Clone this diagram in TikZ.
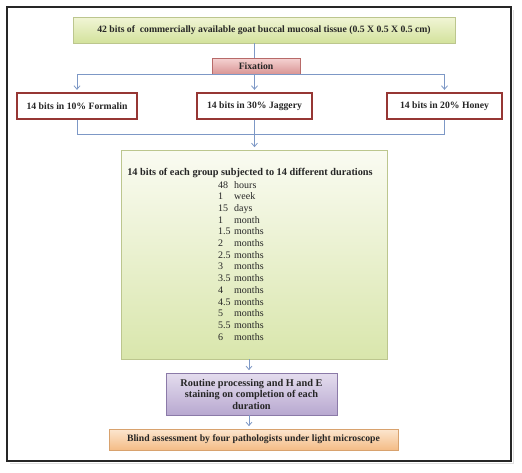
\documentclass[tikz,border=0pt]{standalone}
\usepackage{fontspec}
\setmainfont{Liberation Serif}
\usetikzlibrary{shadows,arrows.meta}
\definecolor{lineblue}{HTML}{7D98C6}
\definecolor{gtop}{HTML}{F1F5D6}
\definecolor{gbot}{HTML}{D3E29C}
\definecolor{gborder}{HTML}{BCC68E}
\definecolor{ptop}{HTML}{F5D3D3}
\definecolor{pbot}{HTML}{D99594}
\definecolor{pborder}{HTML}{B86A69}
\definecolor{redborder}{HTML}{963634}
\definecolor{btop}{HTML}{FAFBF2}
\definecolor{bbot}{HTML}{D9E6AC}
\definecolor{vtop}{HTML}{E4DDEE}
\definecolor{vbot}{HTML}{B8A8D0}
\definecolor{vborder}{HTML}{8B7AA8}
\definecolor{otop}{HTML}{FCE6CF}
\definecolor{obot}{HTML}{F4BC86}
\definecolor{oborder}{HTML}{D8A26E}
\begin{document}
\begin{tikzpicture}[x=1pt,y=-1pt,
  boxtxt/.style={font=\bfseries\fontsize{9.7}{11}\selectfont, text=black!85, inner sep=0pt, align=center},
  shad/.style={drop shadow={opacity=0.25, shadow xshift=1pt, shadow yshift=-1.2pt}},
  greenbox/.style={boxtxt, shad, draw=gborder, line width=0.7pt, top color=gtop, bottom color=gbot},
  pinkbox/.style={boxtxt, shad, draw=pborder, line width=0.7pt, top color=ptop, bottom color=pbot},
  redbox/.style={boxtxt, shad, draw=redborder, line width=1.3pt, fill=white},
  bigbox/.style={shad, draw=gborder, line width=0.7pt, top color=btop, bottom color=bbot, inner sep=0pt},
  purplebox/.style={boxtxt, shad, draw=vborder, line width=0.7pt, top color=vtop, bottom color=vbot},
  orangebox/.style={boxtxt, shad, draw=oborder, line width=0.7pt, top color=otop, bottom color=obot},
  listtxt/.style={font=\fontsize{10}{12}\selectfont, text=black!85, inner sep=0pt, anchor=base west},
  conn/.style={draw=lineblue, line width=0.8pt},
  arr/.style={conn, -{Straight Barb[length=3.5pt,width=6pt]}, shorten >=2.5pt}
]
\useasboundingbox (0,0) rectangle (522,472);
\fill[white] (0,0) rectangle (522,472);
% frame
\draw[black!12, line width=1.2pt] (10,463.5) -- (513.5,463.5) -- (513.5,10);
\draw[black!85, line width=1.3pt] (7,7) rectangle (511,461);

% nodes
\node[greenbox, minimum width=382pt, minimum height=26pt] (top) at (264,30)
  {42 bits of \ commercially available goat buccal mucosal tissue (0.5 X 0.5 X 0.5 cm)};
\node[redbox, minimum width=115pt, minimum height=26pt] (jag) at (254.5,106) {14 bits in 30\% Jaggery};
\node[redbox, minimum width=120pt, minimum height=26pt] (form) at (77,106) {14 bits in 10\% Formalin};
\node[redbox, minimum width=115pt, minimum height=26pt] (honey) at (444.5,106) {14 bits in 20\% Honey};
\node[bigbox, minimum width=266pt, minimum height=209pt] (big) at (254,254.5) {};
\node[boxtxt, font=\bfseries\fontsize{10.3}{11}\selectfont] (bigtitle) at (250,173) {14 bits of each group subjected to 14 different durations};
\foreach \n/\w [count=\i] in {48/hours, 1/week, 15/days, 1/month, 1.5/months, 2/months, 2.5/months, 3/months, 3.5/months, 4/months, 4.5/months, 5/months, 5.5/months, 6/months}{
  \node[listtxt] (num\i) at (218,{188+11.7*(\i-1)}) {\n};
  \node[listtxt] (word\i) at (234,{188+11.7*(\i-1)}) {\w};
}
\node[purplebox, font=\bfseries\fontsize{10.3}{11.5}\selectfont, minimum width=171pt, minimum height=42pt] (proc) at (251.5,394)
  {Routine processing and H and E\\ staining on completion of each\\ duration};
\node[orangebox, minimum width=289pt, minimum height=21pt] (blind) at (253.5,439.5)
  {Blind assessment by four pathologists under light microscope};

% connectors (behind fixation)
\draw[conn] (jag.north |- top.south) -- (jag.north |- 0,74);
\node[pinkbox, minimum width=88pt, minimum height=16pt] (fix) at (256,66) {Fixation};
\draw[conn] (form.north |- fix.south) -- (honey.north |- fix.south);
\draw[arr] (form.north |- fix.south) -- (form.north);
\draw[arr] (jag.north |- fix.south) -- (jag.north);
\draw[arr] (honey.north |- fix.south) -- (honey.north);
\draw[conn] (form.south) -- ++(0,15) -| (honey.south);
\draw[arr] (jag.south) -- (jag.south |- big.north);
\draw[arr] (big.south -| 249,0) -- (proc.north -| 249,0);
\draw[arr] (proc.south -| 249,0) -- (blind.north -| 249,0);
\end{tikzpicture}
\end{document}
